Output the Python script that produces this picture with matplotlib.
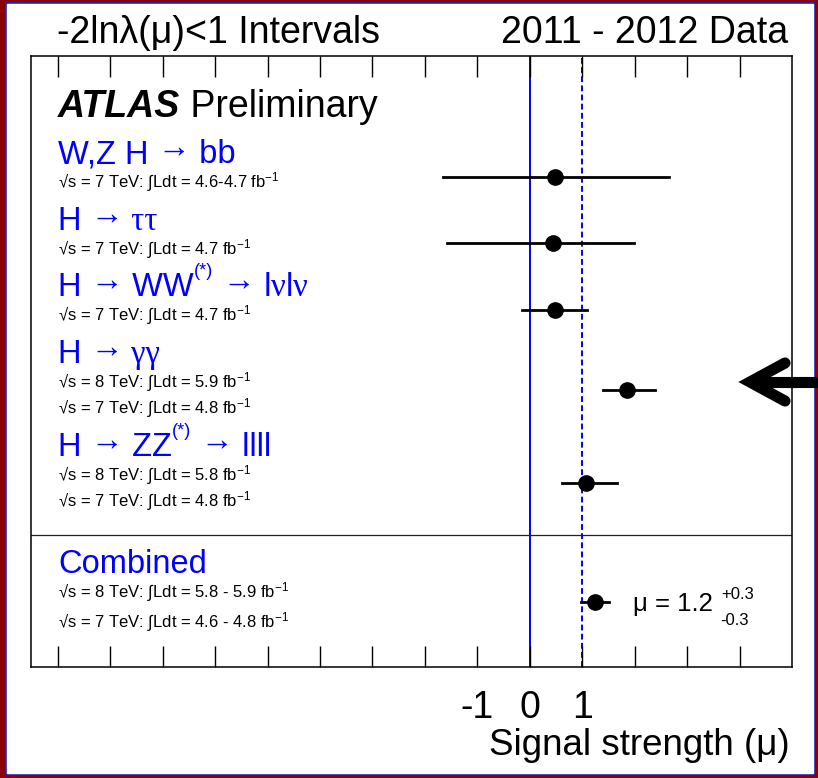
import numpy as np
import matplotlib.pyplot as plt
from matplotlib.patches import Rectangle
from matplotlib.lines import Line2D
from matplotlib.transforms import offset_copy

plt.rcParams['font.family'] = ['Liberation Sans', 'DejaVu Sans']
plt.rcParams['mathtext.fontset'] = 'custom'
plt.rcParams['mathtext.rm'] = 'Liberation Sans'
plt.rcParams['mathtext.it'] = 'Liberation Sans:italic'
plt.rcParams['mathtext.bf'] = 'Liberation Sans:bold'

# per-channel best fit signal strength and -2lnL<1 interval
# heading pieces: (text, kind) with kind txt / arrow / greek / sup
channels = [
    [("W,Z H ", "txt"), ("→", "arrow"), (" bb", "txt")],
    [("H ", "txt"), ("→", "arrow"), (" ττ", "greek")],
    [("H ", "txt"), ("→", "arrow"), (" WW", "txt"), ("(*)", "sup"), (" ", "txt"), ("→", "arrow"),
     (" l", "txt"), ("ν", "greek"), ("l", "txt"), ("ν", "greek")],
    [("H ", "txt"), ("→", "arrow"), (" γγ", "greek")],
    [("H ", "txt"), ("→", "arrow"), (" ZZ", "txt"), ("(*)", "sup"), (" ", "txt"), ("→", "arrow"),
     (" llll", "txt")],
]
lumi_labels = [
    ["√s = 7 TeV: ∫Ldt = 4.6-4.7 fb$^{-1}$"],
    ["√s = 7 TeV: ∫Ldt = 4.7 fb$^{-1}$"],
    ["√s = 7 TeV: ∫Ldt = 4.7 fb$^{-1}$"],
    ["√s = 8 TeV: ∫Ldt = 5.9 fb$^{-1}$", "√s = 7 TeV: ∫Ldt = 4.8 fb$^{-1}$"],
    ["√s = 8 TeV: ∫Ldt = 5.8 fb$^{-1}$", "√s = 7 TeV: ∫Ldt = 4.8 fb$^{-1}$"],
]
mu_best = [0.49, 0.44, 0.48, 1.85, 1.08]
mu_low = [-1.66, -1.57, -0.14, 1.39, 0.62]
mu_high = [2.65, 1.98, 1.09, 2.39, 1.66]

combined_label = [("Combined", "txt")]
combined_lumi = ["√s = 8 TeV: ∫Ldt = 5.8 - 5.9 fb$^{-1}$", "√s = 7 TeV: ∫Ldt = 4.6 - 4.8 fb$^{-1}$"]
combined_mu = 1.24
combined_low = 0.97
combined_high = 1.51
combined_text = "μ = 1.2"
combined_up = "+0.3"
combined_down = "-0.3"

tick_vals = list(range(-9, 5))
labelled_ticks = [-1, 0, 1]

W, H = 818, 778


def fx(px):
    return px / W


def fy(py):
    return 1 - py / H


fig = plt.figure(figsize=(W / 100, H / 100), dpi=100)
fig.patch.set_facecolor('white')
renderer = fig.canvas.get_renderer()

# frame around the picture
fig.patches.append(Rectangle((0, 0), 1, 1, transform=fig.transFigure, color='#8b0000', zorder=-3))
fig.patches.append(Rectangle((fx(5), fy(774)), fx(814) - fx(5), fy(2) - fy(774),
                             transform=fig.transFigure, color='#2222b0', zorder=-2))
fig.patches.append(Rectangle((fx(6.5), fy(772.5)), fx(812.5) - fx(6.5), fy(3.5) - fy(772.5),
                             transform=fig.transFigure, color='white', zorder=-1))

ax_top, ax_bot = 55.5, 666.5
ax = fig.add_axes([fx(31.5), fy(ax_bot), fx(792) - fx(31.5), fy(ax_top) - fy(ax_bot)])
ax.set_xlim(-9.5, 5)
ax.set_ylim(ax_bot - ax_top, 0)
ax.set_yticks([])
ax.set_xticks(tick_vals)
ax.set_xticklabels([str(t) if t in labelled_ticks else "" for t in tick_vals], fontsize=27)
ax.tick_params(axis='x', direction='in', length=15, width=1.0, top=True, pad=17)
for s in ax.spines.values():
    s.set_linewidth(1.1)

ax.axvline(0, color='blue', lw=1.4, zorder=1)
ax.axvline(1, color='blue', lw=1.4, ls=(0, (3, 1.7)), zorder=1)

tr = ax.get_yaxis_transform()
text_x = (58 - 31.5) / (792 - 31.5)

fams = {"txt": ['Liberation Sans', 'DejaVu Sans'], "sup": ['Liberation Sans', 'DejaVu Sans'],
        "arrow": ['Liberation Serif', 'DejaVu Sans'], "greek": ['Liberation Serif', 'DejaVu Serif']}
raise_frac = {"txt": 0, "sup": 0.62, "arrow": 0.2, "greek": 0}


def draw_parts(y, parts, size, color):
    dx = 0.0
    for txt, kind in parts:
        fsize = size * 0.55 if kind == "sup" else size
        dy = size * raise_frac[kind] * 100 / 72
        t = ax.text(text_x, y, txt, transform=offset_copy(tr, fig=fig, x=dx, y=dy, units='dots'),
                    fontsize=fsize, color=color, va='baseline', family=fams[kind])
        dx += t.get_window_extent(renderer).width


# layout of the blocks (pixels below the top of the box)
head_y = 107.8
head_gap = 42
first_sub = 24.5
sub_step = 26.5
head_size = 23.5
sub_size = 12

ax.text(text_x, 61.5, "ATLAS", transform=tr, fontsize=27, fontweight='bold', style='italic', va='baseline')
atlas = ax.texts[-1]
ax.annotate(" Preliminary", xy=(1, 0), xycoords=atlas, fontsize=27, va='bottom')

last_sub = None
for i in range(len(channels)):
    draw_parts(head_y, channels[i], head_size, '#0000ff')
    subs = [head_y + first_sub + k * sub_step for k in range(len(lumi_labels[i]))]
    for k in range(len(subs)):
        ax.text(text_x, subs[k], lumi_labels[i][k], transform=tr, fontsize=sub_size, va='baseline')
    yp = np.mean(subs) - 11
    ax.plot([mu_low[i], mu_high[i]], [yp, yp], color='black', lw=2, zorder=3)
    ax.plot(mu_best[i], yp, 'o', color='black', ms=11, zorder=4)
    last_sub = subs[-1]
    head_y = last_sub + head_gap

sep_y = last_sub + 28.5
ax.axhline(sep_y, color='#222222', lw=0.9, zorder=2)

head_y = sep_y + 37.5
draw_parts(head_y, combined_label, head_size, '#0000ff')
subs = [head_y + first_sub + k * sub_step * 1.15 for k in range(len(combined_lumi))]
for k in range(len(subs)):
    ax.text(text_x, subs[k], combined_lumi[k], transform=tr, fontsize=sub_size, va='baseline')
yp = np.mean(subs) - 11
ax.plot([combined_low, combined_high], [yp, yp], color='black', lw=2, zorder=3)
ax.plot(combined_mu, yp, 'o', color='black', ms=11, zorder=4)

ax.text((633 - 31.5) / 760.5, yp + 9.5, combined_text, transform=tr, fontsize=18.5, va='baseline')
ax.text((721 - 31.5) / 760.5, yp - 3, combined_up, transform=tr, fontsize=12, va='baseline')
ax.text((720 - 31.5) / 760.5, yp + 23, combined_down, transform=tr, fontsize=12, va='baseline')

# titles
fig.text(fx(57), fy(43), "-2lnλ(μ)<1 Intervals", fontsize=27, va='baseline')
fig.text(fx(788), fy(43), "2011 - 2012 Data", fontsize=27, va='baseline', ha='right')
fig.text(fx(790), fy(755), "Signal strength (μ)", fontsize=26.5, va='baseline', ha='right')

# arrow pointing at the H -> gamma gamma result
arrow_y = 382
fig.add_artist(Line2D([fx(750), fx(830)], [fy(arrow_y), fy(arrow_y)], transform=fig.transFigure,
                      color='black', lw=8, solid_capstyle='butt'))
fig.add_artist(Line2D([fx(785), fx(750), fx(785)], [fy(arrow_y - 19), fy(arrow_y), fy(arrow_y + 19)],
                      transform=fig.transFigure, color='black', lw=8,
                      solid_capstyle='round', solid_joinstyle='miter'))

fig.savefig("out.png", dpi=100)
